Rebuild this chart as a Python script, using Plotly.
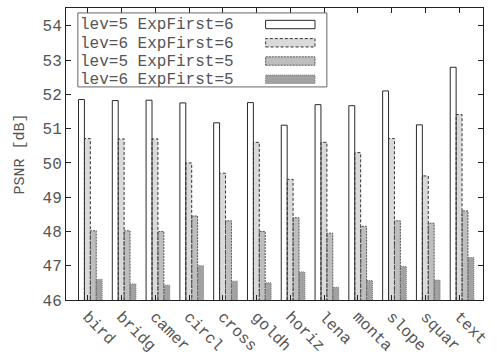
import numpy as np
import plotly.graph_objects as go

# Test images (truncated names as used on the axis)
categories = ["bird", "bridg", "camer", "circl", "cross", "goldh",
              "horiz", "lena", "monta", "slope", "squar", "text"]

# PSNR in dB per configuration
psnr_lev5_exp6 = [51.85, 51.82, 51.83, 51.75, 51.17, 51.76,
                  51.10, 51.70, 51.67, 52.10, 51.11, 52.79]
psnr_lev6_exp6 = [50.71, 50.70, 50.70, 50.00, 49.70, 50.60,
                  49.52, 50.60, 50.30, 50.71, 49.62, 51.41]
psnr_lev5_exp5 = [48.02, 48.02, 48.00, 48.45, 48.31, 48.00,
                  48.40, 47.95, 48.15, 48.31, 48.24, 48.60]
psnr_lev6_exp5 = [46.60, 46.47, 46.43, 47.00, 46.55, 46.50,
                  46.82, 46.37, 46.57, 46.98, 46.58, 47.24]

series_names = ["lev=5 ExpFirst=6", "lev=6 ExpFirst=6",
                "lev=5 ExpFirst=5", "lev=6 ExpFirst=5"]
series_values = [psnr_lev5_exp6, psnr_lev6_exp6, psnr_lev5_exp5, psnr_lev6_exp5]

y_ticks = [46, 47, 48, 49, 50, 51, 52, 53, 54]
y_min, y_max = 46.0, 54.52

# Bar styling: fill, outline colour, outline dash
styles = [
    ("#ffffff", "#2a2a2a", "solid"),
    ("#dadada", "#333333", "3px,2px"),
    ("#bebebe", "#555555", "2px,1px"),
    ("#a2a2a2", "#777777", "1px,1px"),
]

FONT = "Liberation Mono, Courier New, monospace"
TEXT_COLOR = "#555555"
bar_w = 0.175
first_off = -0.27

idx = np.arange(len(categories))
fig = go.Figure()

for k, (name, vals) in enumerate(zip(series_names, series_values)):
    fill, edge, dash = styles[k]
    off = first_off + k * bar_w
    fig.add_trace(go.Bar(
        x=idx, y=vals, width=bar_w, offset=off, name=name,
        marker=dict(color=fill, line=dict(width=0)),
        showlegend=False,
    ))
    # outline of each bar, drawn as a dashed path
    xs, ys = [], []
    for i, v in zip(idx, vals):
        x0, x1 = i + off, i + off + bar_w
        xs += [x0, x0, x1, x1, None]
        ys += [y_min, v, v, y_min, None]
    fig.add_trace(go.Scatter(
        x=xs, y=ys, mode="lines", hoverinfo="skip", showlegend=False,
        line=dict(color=edge, width=1, dash=dash),
    ))

# Key box in the upper-left corner
shapes = []
annotations = []
px_w, px_h = 422.0, 296.0
def px_x(p):
    return p / px_w
def px_y(p):
    return 1 - p / px_h

shapes.append(dict(type="rect", xref="paper", yref="paper",
                   x0=px_x(12), x1=px_x(264), y0=px_y(80), y1=px_y(5),
                   line=dict(color="#666666", width=1), fillcolor="white",
                   layer="above"))
row_centers = [17.5, 36, 54.5, 73]
for k, name in enumerate(series_names):
    fill, edge, dash = styles[k]
    yc = row_centers[k]
    annotations.append(dict(
        xref="paper", yref="paper", x=px_x(13), y=px_y(yc),
        xanchor="left", yanchor="middle", showarrow=False, text=name,
        font=dict(family=FONT, size=16, color=TEXT_COLOR),
        borderpad=0,
    ))
    shapes.append(dict(type="rect", xref="paper", yref="paper",
                       x0=px_x(202), x1=px_x(252),
                       y0=px_y(yc + 3.5), y1=px_y(yc - 5),
                       line=dict(color=edge, width=1, dash=dash),
                       fillcolor=fill, layer="above"))

fig.update_layout(
    width=497, height=363,
    margin=dict(l=66, r=9, t=7, b=60),
    paper_bgcolor="white", plot_bgcolor="white",
    barmode="overlay",
    shapes=shapes, annotations=annotations,
    font=dict(family=FONT, size=16, color=TEXT_COLOR),
)
fig.update_xaxes(
    range=[-0.64, 11.70], tickmode="array", tickvals=idx, ticktext=categories,
    tickangle=45, ticks="inside", ticklen=5, tickcolor="#222222",
    showline=True, linecolor="#222222", linewidth=1, mirror="ticks",
    showgrid=False, zeroline=False,
    tickfont=dict(family=FONT, size=16, color=TEXT_COLOR),
)
fig.update_yaxes(
    range=[y_min, y_max], tickmode="array", tickvals=y_ticks,
    ticks="inside", ticklen=5, tickcolor="#222222",
    showline=True, linecolor="#222222", linewidth=1, mirror="ticks",
    showgrid=False, zeroline=False,
    title=dict(text="PSNR [dB]", standoff=14,
               font=dict(family=FONT, size=15, color=TEXT_COLOR)),
    tickfont=dict(family=FONT, size=16, color=TEXT_COLOR),
)

fig.write_html("out.html")
